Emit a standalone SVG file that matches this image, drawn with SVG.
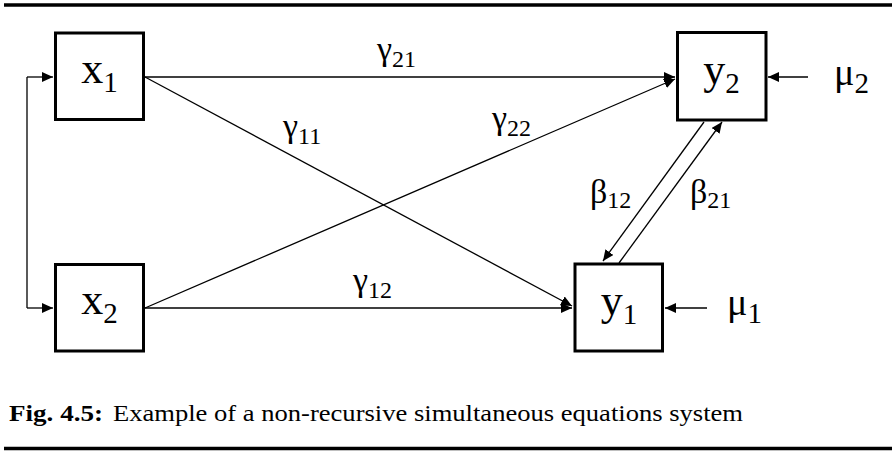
<svg xmlns="http://www.w3.org/2000/svg" width="896" height="451" viewBox="0 0 896 451">
<style>
.box{fill:#fff;stroke:#000;stroke-width:3}
.lbl{font-family:"Liberation Serif","DejaVu Serif",serif;font-size:44px;fill:#000}
.gr{font-family:"Liberation Serif","DejaVu Serif",serif;font-size:34px;fill:#000}
.mu{font-family:"Liberation Serif","DejaVu Serif",serif;font-size:38px;fill:#000}
.edge{fill:none;stroke:#000;stroke-width:1.3}
.rule{stroke:#000;stroke-width:3.4}
.cap{font-family:"Liberation Serif","DejaVu Serif",serif;font-size:23px;fill:#000}
</style>
<defs>
<marker id="ah" markerUnits="userSpaceOnUse" markerWidth="12" markerHeight="11" refX="11" refY="5" orient="auto">
<path d="M0,0 L11,5 L0,10 z" fill="#000"/>
</marker>
</defs>
<line class="rule" x1="4" y1="5" x2="892" y2="5"/>
<g id="connectors">
<path class="edge" d="M145,77 L675,77" marker-end="url(#ah)"/>
<path class="edge" d="M145,308 L572,308" marker-end="url(#ah)"/>
<path class="edge" d="M145,77 L572,306" marker-end="url(#ah)"/>
<path class="edge" d="M145,308 L675,79" marker-end="url(#ah)"/>
<path class="edge" d="M27,77 L27,308"/>
<path class="edge" d="M27,77 L53,77" marker-end="url(#ah)"/>
<path class="edge" d="M27,308 L53,308" marker-end="url(#ah)"/>
<path class="edge" d="M808,77 L768,77" marker-end="url(#ah)"/>
<path class="edge" d="M707,308 L665,308" marker-end="url(#ah)"/>
<path class="edge" d="M704,122 L603,261" marker-end="url(#ah)"/>
<path class="edge" d="M619,263 L722,122" marker-end="url(#ah)"/>
<text class="gr" x="377" y="60">γ<tspan font-size="24" dy="7">21</tspan></text>
<text class="gr" x="283" y="137">γ<tspan font-size="24" dy="7">11</tspan></text>
<text class="gr" x="492" y="129">γ<tspan font-size="24" dy="7">22</tspan></text>
<text class="gr" x="353" y="291">γ<tspan font-size="24" dy="7">12</tspan></text>
<text class="gr" x="590" y="203">β<tspan font-size="24" dy="5">12</tspan></text>
<text class="gr" x="690" y="203">β<tspan font-size="24" dy="5">21</tspan></text>
</g>
<g id="x1">
<rect class="box" x="55.5" y="33" width="88" height="86.5"/>
<text class="lbl" x="99.5" y="83" text-anchor="middle">x<tspan font-size="29" dy="9">1</tspan></text>
</g>
<g id="x2">
<rect class="box" x="55.5" y="264.5" width="88" height="86.5"/>
<text class="lbl" x="99.5" y="314" text-anchor="middle">x<tspan font-size="29" dy="9">2</tspan></text>
</g>
<g id="y2">
<rect class="box" x="677.5" y="32.5" width="88.5" height="87.5"/>
<text class="lbl" x="721.5" y="84" text-anchor="middle">y<tspan font-size="29" dy="9">2</tspan></text>
</g>
<g id="y1">
<rect class="box" x="575" y="264" width="87.5" height="87"/>
<text class="lbl" x="619" y="315" text-anchor="middle">y<tspan font-size="29" dy="9">1</tspan></text>
</g>
<g id="mu2">
<text class="mu" x="834" y="85">μ<tspan font-size="29" dy="8">2</tspan></text>
</g>
<g id="mu1">
<text class="mu" x="727" y="315">μ<tspan font-size="29" dy="8">1</tspan></text>
</g>
<text class="cap" x="9" y="421" font-weight="bold" textLength="94" lengthAdjust="spacingAndGlyphs">Fig. 4.5:</text>
<text class="cap" x="113" y="421" textLength="630" lengthAdjust="spacingAndGlyphs">Example of a non-recursive simultaneous equations system</text>
<line class="rule" x1="4" y1="448.5" x2="892" y2="448.5"/>
</svg>
